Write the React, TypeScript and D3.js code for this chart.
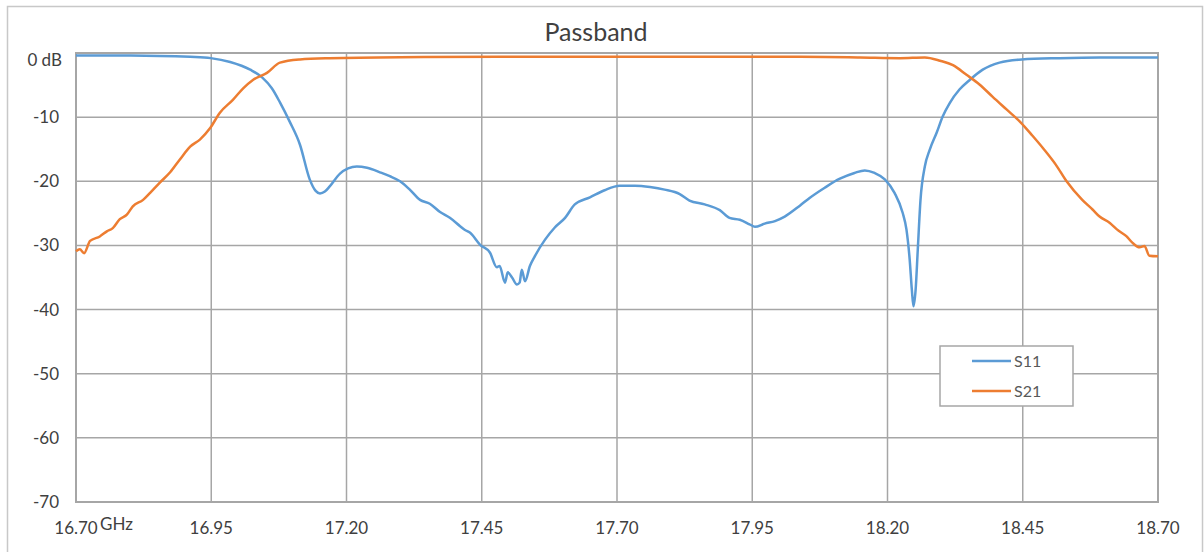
import { useMemo } from "react"
import * as d3 from "d3"

// frequency in GHz, level in dB
const s11Freq = [
  16.7, 16.781, 16.855, 16.911, 16.949, 16.985, 17.022, 17.044, 17.062, 17.077, 17.095, 17.114, 17.132, 17.143,
  17.151, 17.16, 17.169, 17.188, 17.203, 17.219, 17.238, 17.262, 17.28, 17.299, 17.317, 17.336, 17.354, 17.373,
  17.391, 17.41, 17.419, 17.428, 17.447, 17.465, 17.478, 17.483, 17.493, 17.498, 17.506, 17.515, 17.52, 17.524,
  17.53, 17.539, 17.548, 17.567, 17.585, 17.604, 17.622, 17.65, 17.677, 17.705, 17.733, 17.761, 17.788, 17.816,
  17.834, 17.862, 17.89, 17.908, 17.927, 17.945, 17.955, 17.973, 17.992, 18.01, 18.038, 18.056, 18.084, 18.112,
  18.139, 18.158, 18.176, 18.195, 18.213, 18.228, 18.235, 18.241, 18.245, 18.248, 18.252, 18.256, 18.261, 18.269,
  18.278, 18.291, 18.302, 18.315, 18.333, 18.352, 18.376, 18.407, 18.448, 18.518, 18.592, 18.7,
]
const s11Values = [
  -0.4, -0.4, -0.45, -0.6, -0.8, -1.4, -2.6, -3.8, -5.5, -7.7, -10.7, -14.3, -19.7, -21.5,
  -21.9, -21.6, -20.8, -18.8, -18.0, -17.7, -17.9, -18.6, -19.2, -20.0, -21.3, -22.9, -23.5, -24.8,
  -25.7, -27.0, -27.6, -28.0, -29.9, -31.1, -33.4, -33.2, -35.8, -34.2, -35.0, -36.1, -35.8, -33.8,
  -35.6, -33.2, -31.7, -29.1, -27.2, -25.7, -23.6, -22.5, -21.4, -20.7, -20.7, -20.9, -21.3, -22.0,
  -23.0, -23.6, -24.5, -25.7, -26.0, -26.7, -27.1, -26.6, -26.2, -25.5, -23.8, -22.6, -21.0, -19.6,
  -18.7, -18.3, -18.7, -19.7, -21.8, -24.9, -27.5, -32.2, -36.9, -39.5, -36.9, -30.6, -22.9, -17.7,
  -15.1, -12.4, -9.9, -7.8, -5.7, -4.2, -2.6, -1.5, -1.0, -0.8, -0.7, -0.7,
]

const s21Freq = [
  16.7, 16.707, 16.715, 16.726, 16.744, 16.757, 16.768, 16.781, 16.794, 16.805, 16.824, 16.837, 16.855, 16.874,
  16.892, 16.911, 16.929, 16.948, 16.966, 16.99, 17.009, 17.027, 17.053, 17.077, 17.114, 17.169, 17.299, 17.483,
  17.668, 17.853, 18.038, 18.149, 18.223, 18.269, 18.297, 18.321, 18.346, 18.37, 18.394, 18.42, 18.446, 18.468,
  18.489, 18.511, 18.531, 18.56, 18.579, 18.592, 18.611, 18.624, 18.642, 18.653, 18.666, 18.675, 18.684, 18.7,
]
const s21Values = [
  -30.9, -30.6, -31.2, -29.3, -28.6, -27.8, -27.3, -25.9, -25.2, -23.9, -22.9, -21.8, -20.2, -18.6,
  -16.6, -14.6, -13.5, -11.7, -9.3, -7.3, -5.5, -4.2, -3.1, -1.5, -1.0, -0.8, -0.65, -0.6,
  -0.6, -0.6, -0.6, -0.7, -0.8, -0.7, -1.2, -1.9, -3.4, -4.9, -6.8, -8.8, -10.8, -12.9,
  -15.0, -17.4, -20.0, -22.9, -24.4, -25.5, -26.5, -27.5, -28.6, -29.6, -30.3, -30.1, -31.6, -31.7,
]

const xTicks = [16.7, 16.95, 17.2, 17.45, 17.7, 17.95, 18.2, 18.45, 18.7]
const yTicks = [0, -10, -20, -30, -40, -50, -60, -70]

const series = [
  { name: "S11", freq: s11Freq, values: s11Values, color: "#5b9bd5" },
  { name: "S21", freq: s21Freq, values: s21Values, color: "#ed7d31" },
]

const W = 1204
const H = 552
const margin = { top: 53, right: 46, bottom: 50, left: 76 }
const font = "Lato, 'Open Sans', sans-serif"
const gridColor = "#a6a6a6"
const textColor = "#404040"

export default function App() {
  const x = useMemo(
    () => d3.scaleLinear().domain([16.7, 18.7]).range([margin.left, W - margin.right]),
    []
  )
  const y = useMemo(() => d3.scaleLinear().domain([-70, 0]).range([H - margin.bottom, margin.top]), [])

  const line = d3
    .line<[number, number]>()
    .x((d) => x(d[0]))
    .y((d) => y(d[1]))
    .curve(d3.curveMonotoneX)

  const legendX = 940
  const legendY = 346

  return (
    <svg width={W} height={H} style={{ position: "absolute", left: 0, top: 0, background: "#fff" }}>
      {/* chart frame */}
      <rect x={7.5} y={6.5} width={1195} height={600} fill="#fff" stroke="#c8c8c8" strokeWidth={1.5} />

      <text x={596} y={41} textAnchor="middle" fontFamily={font} fontSize={25} fill={textColor}>
        Passband
      </text>

      {/* grid */}
      {yTicks.map((t) => (
        <line key={"gy" + t} x1={x(16.7)} x2={x(18.7)} y1={y(t)} y2={y(t)} stroke={gridColor} strokeWidth={1.5} />
      ))}
      {xTicks.map((t) => (
        <line key={"gx" + t} x1={x(t)} x2={x(t)} y1={y(0)} y2={y(-70)} stroke={gridColor} strokeWidth={1.5} />
      ))}
      <rect
        x={x(16.7)}
        y={y(0)}
        width={x(18.7) - x(16.7)}
        height={y(-70) - y(0)}
        fill="none"
        stroke={gridColor}
        strokeWidth={2}
      />

      {/* y labels */}
      {yTicks.map((t) => (
        <text
          key={"ly" + t}
          x={t === 0 ? 62 : 59}
          y={t === 0 ? y(t) + 7 : y(t)}
          dy="0.35em"
          textAnchor="end"
          fontFamily={font}
          fontSize={17}
          fill={textColor}
        >
          {t === 0 ? "0 dB" : String(t)}
        </text>
      ))}

      {/* x labels */}
      {xTicks.map((t) => (
        <text
          key={"lx" + t}
          x={x(t)}
          y={534}
          textAnchor="middle"
          fontFamily={font}
          fontSize={17}
          fill={textColor}
        >
          {t.toFixed(2)}
        </text>
      ))}
      <text x={100} y={530} fontFamily={font} fontSize={17} fill={textColor}>
        GHz
      </text>

      {/* curves */}
      {series.map((s) => (
        <path
          key={s.name}
          d={line(s.freq.map((f, i) => [f, s.values[i]] as [number, number])) || ""}
          fill="none"
          stroke={s.color}
          strokeWidth={2.5}
          strokeLinejoin="round"
        />
      ))}

      {/* legend */}
      <rect x={legendX} y={legendY} width={133} height={60} fill="#fff" stroke={gridColor} strokeWidth={1.5} />
      {series.map((s, i) => (
        <g key={"lg" + s.name}>
          <line
            x1={legendX + 32}
            x2={legendX + 71}
            y1={legendY + 15 + i * 30}
            y2={legendY + 15 + i * 30}
            stroke={s.color}
            strokeWidth={2.5}
          />
          <text
            x={legendX + 74}
            y={legendY + 15 + i * 30}
            dy="0.35em"
            fontFamily={font}
            fontSize={16}
            fill="#595959"
          >
            {s.name}
          </text>
        </g>
      ))}
    </svg>
  )
}
